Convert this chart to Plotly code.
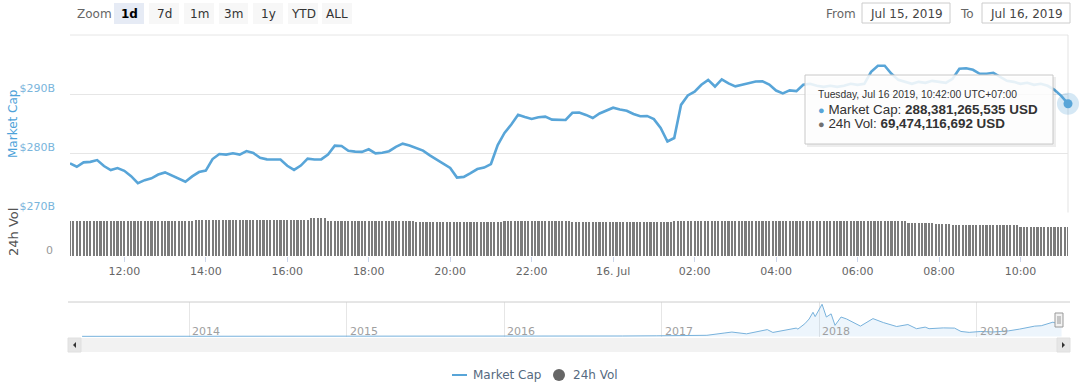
import plotly.graph_objects as go
import pandas as pd

# ---------------- data ----------------
# Total market cap (USD billions), 10-minute samples starting Jul 15 2019 10:40
mc_start = "2019-07-15 10:40"
mc_axis_end = "2019-07-16 11:10"
mc_vals = [
    278.31, 277.73, 278.47, 278.56, 278.86, 277.85, 277.17, 277.51, 277.05, 276.15,
    274.97, 275.47, 275.78, 276.41, 276.78, 276.27, 275.64, 275.19, 276.10, 276.83,
    277.08, 279.03, 279.88, 279.78, 280.00, 279.78, 280.39, 280.05, 279.24, 278.98,
    278.95, 278.95, 277.90, 277.20, 277.93, 279.10, 278.97, 278.98, 279.80, 281.29,
    281.24, 280.44, 280.29, 280.25, 280.68, 280.00, 280.10, 280.36, 281.10, 281.64,
    281.33, 280.90, 280.46, 279.66, 278.93, 278.14, 277.54, 275.90, 276.02, 276.66,
    277.34, 277.59, 278.19, 281.41, 283.44, 284.88, 286.53, 286.15, 285.80, 286.10,
    286.20, 285.69, 285.61, 285.64, 286.86, 286.90, 286.49, 285.97, 286.73, 287.20,
    287.71, 287.42, 287.20, 286.66, 286.27, 286.32, 285.78, 284.29, 282.00, 282.59,
    288.19, 289.78, 290.42, 291.58, 292.42, 291.29, 292.51, 291.83, 291.32, 291.58,
    291.86, 292.14, 292.17, 291.63, 290.61, 290.14, 290.64, 290.51, 291.58, 291.75,
    291.41, 291.24, 291.41, 291.24, 291.41, 291.75, 291.58, 291.75, 293.78, 294.80,
    294.80, 293.44, 292.42, 292.08, 291.75, 292.08, 291.92, 292.25, 292.08, 291.92,
    292.59, 294.29, 294.37, 294.12, 293.44, 293.44, 293.61, 292.93, 292.25, 292.08,
    291.75, 291.92, 291.58, 291.75, 291.41, 290.73, 289.71, 288.38,
]

# 24h volume (USD billions), 5-minute samples starting Jul 15 2019 10:40 (one hour per row)
vol_vals = [
    83.3, 83.3, 83.3, 83.3, 83.3, 83.3, 83.3, 83.3, 83.3, 83.3, 83.3, 83.3,
    83.3, 83.3, 83.3, 83.3, 83.3, 83.3, 83.3, 83.3, 83.3, 83.3, 83.3, 83.3,
    83.3, 83.3, 83.3, 83.3, 83.3, 83.3, 83.3, 83.3, 83.3, 83.3, 83.3, 83.3,
    83.3, 84.0, 84.0, 84.0, 84.0, 84.0, 84.0, 84.0, 84.0, 84.0, 84.0, 84.0,
    84.0, 84.0, 84.0, 84.0, 84.0, 84.0, 84.0, 84.0, 84.0, 84.0, 84.0, 84.0,
    84.0, 84.0, 84.0, 84.0, 84.0, 84.0, 84.0, 84.0, 84.0, 84.0, 84.0, 88.8,
    89.2, 89.2, 89.0, 88.6, 83.3, 83.3, 83.3, 83.3, 83.3, 83.3, 83.3, 83.3,
    83.3, 83.3, 83.3, 83.3, 81.8, 81.8, 81.8, 81.8, 81.8, 81.8, 81.8, 81.8,
    81.8, 81.8, 81.8, 81.8, 81.8, 81.8, 80.3, 80.3, 80.3, 80.3, 80.3, 80.3,
    80.3, 80.3, 80.3, 80.3, 80.3, 80.3, 79.0, 80.3, 80.3, 80.3, 80.3, 80.3,
    80.3, 80.3, 80.3, 80.3, 80.3, 80.3, 80.3, 80.3, 81.8, 81.8, 81.8, 81.8,
    81.8, 81.8, 81.8, 81.8, 81.8, 82.5, 82.5, 82.5, 82.5, 82.5, 82.5, 82.5,
    82.5, 82.5, 82.5, 82.5, 80.5, 80.5, 80.5, 80.5, 80.5, 80.5, 80.5, 80.5,
    80.5, 80.5, 80.5, 81.2, 80.5, 80.5, 80.5, 80.5, 80.5, 80.5, 80.5, 80.5,
    80.5, 80.5, 80.5, 80.5, 80.5, 80.5, 80.5, 80.5, 80.5, 80.5, 81.8, 81.8,
    81.8, 81.8, 81.8, 81.8, 81.8, 81.8, 81.8, 81.8, 81.8, 81.8, 81.8, 81.8,
    81.8, 81.8, 81.8, 81.8, 81.8, 81.8, 81.8, 81.8, 81.8, 81.8, 81.8, 81.8,
    81.8, 81.8, 81.8, 81.8, 81.8, 81.8, 81.8, 81.8, 81.8, 81.8, 81.8, 81.8,
    81.8, 81.8, 81.8, 81.8, 81.8, 81.8, 81.8, 81.8, 81.8, 81.8, 81.8, 81.8,
    81.8, 81.8, 81.8, 81.8, 81.8, 81.8, 81.8, 81.8, 81.8, 81.8, 81.8, 81.8,
    81.8, 81.8, 81.8, 81.8, 81.8, 81.8, 81.8, 78.0, 78.0, 78.0, 78.0, 78.0,
    78.0, 78.0, 78.0, 75.7, 75.7, 75.7, 75.7, 75.7, 72.6, 72.6, 72.6, 72.6,
    72.6, 72.6, 72.6, 72.6, 72.6, 72.6, 72.6, 72.6, 72.6, 72.6, 72.6, 72.6,
    72.6, 72.6, 72.6, 72.6, 69.5, 69.5, 69.5, 69.5, 69.5, 69.5, 69.5, 69.5,
    69.5, 69.5, 69.5, 69.5, 69.5, 69.5, 69.47,
]

x_tickvals = ["2019-07-15 12:00", "2019-07-15 14:00", "2019-07-15 16:00", "2019-07-15 18:00",
              "2019-07-15 20:00", "2019-07-15 22:00", "2019-07-16 00:00", "2019-07-16 02:00",
              "2019-07-16 04:00", "2019-07-16 06:00", "2019-07-16 08:00", "2019-07-16 10:00"]
x_ticktext = ["12:00", "14:00", "16:00", "18:00", "20:00", "22:00", "16. Jul",
              "02:00", "04:00", "06:00", "08:00", "10:00"]
y_tickvals = [270, 280, 290, 300]
y_ticktext = ["$270B", "$280B", "$290B", ""]

# Navigator: full history of total market cap (USD billions)
nav_dates = ["2013-04-28", "2013-06-01", "2013-08-01", "2013-10-01", "2013-11-15", "2013-12-04",
             "2013-12-20", "2014-01-05", "2014-02-15", "2014-04-10", "2014-06-05", "2014-08-01",
             "2014-10-05", "2014-12-15", "2015-01-15", "2015-03-15", "2015-06-01", "2015-08-20",
             "2015-11-05", "2015-12-15", "2016-02-01", "2016-04-15", "2016-06-17", "2016-08-02",
             "2016-10-01", "2016-12-20", "2017-01-05", "2017-02-15", "2017-03-15", "2017-04-15",
             "2017-05-25", "2017-06-12", "2017-07-16", "2017-08-08", "2017-09-02", "2017-09-15",
             "2017-10-20", "2017-11-08", "2017-11-12", "2017-11-28", "2017-12-08", "2017-12-17",
             "2017-12-22", "2018-01-07", "2018-01-17", "2018-01-28", "2018-02-06", "2018-02-20",
             "2018-03-05", "2018-04-06", "2018-05-05", "2018-05-29", "2018-06-29", "2018-07-25",
             "2018-08-14", "2018-09-03", "2018-09-12", "2018-10-15", "2018-11-10", "2018-11-25",
             "2018-12-14", "2019-01-10", "2019-02-07", "2019-03-15", "2019-04-10", "2019-05-15",
             "2019-05-30", "2019-06-26", "2019-07-10", "2019-07-16"]
nav_vals = [1.6, 1.5, 1.3, 1.8, 6, 15, 9, 11, 9, 6, 9, 8,
            5, 4.5, 3.5, 4.5, 4.2, 4.3, 6.5, 7, 6.5, 7.5, 12, 9.5,
            10.5, 15, 17, 18, 24, 28, 85, 110, 65, 115, 172, 100,
            175, 210, 185, 320, 440, 610, 500, 813, 490, 570, 280, 490,
            440, 260, 450, 350, 250, 300, 195, 235, 195, 215, 210, 125,
            102, 125, 112, 140, 185, 260, 270, 360, 310, 288]
nav_range = ["2013-03-31", "2019-07-31"]
nav_year_vals = ["2014-01-01", "2015-01-01", "2016-01-01", "2017-01-01", "2018-01-01", "2019-01-01"]
nav_year_text = ["2014", "2015", "2016", "2017", "2018", "2019"]

zoom_buttons = ["1d", "7d", "1m", "3m", "1y", "YTD", "ALL"]
zoom_selected = "1d"
date_from = "Jul 15, 2019"
date_to = "Jul 16, 2019"
tip_time = "Tuesday, Jul 16 2019, 10:42:00 UTC+07:00"
tip_mcap = 288381265535
tip_vol = 69474116692

# ---------------- styling / geometry ----------------
W, H = 1080, 385
L, R, T, B = 70, 12, 35, 48
PW, PH = W - L - R, H - T - B
BOTTOM = H - B


def PX(x):
    return (x - L) / PW


def PY(y):
    return (BOTTOM - y) / PH


FONT = "DejaVu Sans"
TIPFONT = "Liberation Sans"
LINE_BLUE = "#58a5d8"
VOL_GREY = "#7b7b7b"

main_dom = [PY(212.5), 1.0]
vol_dom = [PY(256), PY(212.5)]
nav_dom = [0.0, PY(302)]

mc_times = pd.date_range(start=mc_start, periods=len(mc_vals), freq="10min")
vol_times = pd.date_range(start=mc_start, periods=len(vol_vals), freq="5min")

fig = go.Figure()

fig.add_trace(go.Scatter(x=mc_times, y=mc_vals, mode="lines", name="Market Cap",
                         line=dict(color=LINE_BLUE, width=2.6), xaxis="x", yaxis="y",
                         hoverinfo="skip", showlegend=False))
fig.add_trace(go.Bar(x=vol_times, y=vol_vals, name="24h Vol", marker=dict(color=VOL_GREY, line=dict(width=0)),
                     width=190000, xaxis="x", yaxis="y2", hoverinfo="skip", showlegend=False))
# hovered point
fig.add_trace(go.Scatter(x=[mc_times[-1]], y=[mc_vals[-1]], mode="markers", xaxis="x", yaxis="y",
                         marker=dict(size=22, color="rgba(88,165,216,0.25)"), cliponaxis=False,
                         hoverinfo="skip", showlegend=False))
fig.add_trace(go.Scatter(x=[mc_times[-1]], y=[mc_vals[-1]], mode="markers", xaxis="x", yaxis="y",
                         marker=dict(size=9, color=LINE_BLUE, line=dict(width=0)),
                         cliponaxis=False, hoverinfo="skip", showlegend=False))
# navigator series
fig.add_trace(go.Scatter(x=nav_dates, y=nav_vals, mode="lines", fill="tozeroy",
                         fillcolor="rgba(124,181,236,0.14)", line=dict(color="#78b2dc", width=1),
                         xaxis="x3", yaxis="y3", hoverinfo="skip", showlegend=False))

shapes = []
annotations = []

# top line and right border line of main pane
shapes.append(dict(type="line", xref="paper", yref="paper", x0=0, x1=1, y0=1, y1=1, layer="below",
                   line=dict(color="#e6e6e6", width=1)))
shapes.append(dict(type="line", xref="paper", yref="paper", x0=1, x1=1, y0=main_dom[0], y1=1, layer="below",
                   line=dict(color="#e3e3e3", width=1)))
# navigator top outline
shapes.append(dict(type="line", xref="paper", yref="paper", x0=PX(68), x1=PX(1070), y0=nav_dom[1], y1=nav_dom[1],
                   line=dict(color="#cccccc", width=1)))
# navigator year labels
for yv, yt in zip(nav_year_vals, nav_year_text):
    annotations.append(dict(text=yt, x=yv, xref="x3", y=PY(331), yref="paper", showarrow=False,
                            xanchor="left", yanchor="middle", xshift=1,
                            font=dict(family=FONT, size=11, color="#a0a0a0")))
# navigator handle
shapes.append(dict(type="rect", xref="paper", yref="paper", x0=PX(1055), x1=PX(1063), y0=PY(327), y1=PY(313),
                   fillcolor="#f2f2f2", line=dict(color="#999999", width=1)))
for hx in (1058, 1060):
    shapes.append(dict(type="line", xref="paper", yref="paper", x0=PX(hx), x1=PX(hx), y0=PY(324), y1=PY(316),
                       line=dict(color="#999999", width=1)))
# scrollbar
shapes.append(dict(type="rect", xref="paper", yref="paper", x0=PX(68), x1=PX(1070), y0=PY(352), y1=PY(338),
                   fillcolor="#f2f2f2", line=dict(width=0)))
shapes.append(dict(type="rect", xref="paper", yref="paper", x0=PX(68), x1=PX(81), y0=PY(352), y1=PY(338),
                   fillcolor="#e6e6e6", line=dict(color="#e0e0e0", width=1)))
shapes.append(dict(type="rect", xref="paper", yref="paper", x0=PX(1057), x1=PX(1070), y0=PY(352), y1=PY(338),
                   fillcolor="#e6e6e6", line=dict(color="#e0e0e0", width=1)))
shapes.append(dict(type="path", xref="paper", yref="paper",
                   path=f"M {PX(76)} {PY(342)} L {PX(73)} {PY(345)} L {PX(76)} {PY(348)} Z",
                   fillcolor="#333333", line=dict(width=0)))
shapes.append(dict(type="path", xref="paper", yref="paper",
                   path=f"M {PX(1062)} {PY(342)} L {PX(1065)} {PY(345)} L {PX(1062)} {PY(348)} Z",
                   fillcolor="#333333", line=dict(width=0)))

# range selector
btn_x = [(114, 144), (149, 179), (184, 214), (219, 248), (253, 283), (288, 318), (322, 352)]
annotations.append(dict(text="Zoom", x=PX(94), y=PY(13.5), xref="paper", yref="paper", showarrow=False,
                        xanchor="center", yanchor="middle", font=dict(family=FONT, size=12, color="#666666")))
for lab, (x0, x1) in zip(zoom_buttons, btn_x):
    sel = lab == zoom_selected
    shapes.append(dict(type="rect", xref="paper", yref="paper", x0=PX(x0), x1=PX(x1), y0=PY(24), y1=PY(3),
                       fillcolor="#e6ebf5" if sel else "#f7f7f7", line=dict(width=0)))
    annotations.append(dict(text=f"<b>{lab}</b>" if sel else lab, x=PX((x0 + x1) / 2), y=PY(13.5),
                            xref="paper", yref="paper", showarrow=False, xanchor="center", yanchor="middle",
                            font=dict(family=FONT, size=12, color="#000000" if sel else "#333333")))

# From / To inputs
for lab, lx, (bx0, bx1), val in (("From", 841, (862, 950), date_from), ("To", 967, (982, 1070), date_to)):
    annotations.append(dict(text=lab, x=PX(lx), y=PY(13.5), xref="paper", yref="paper", showarrow=False,
                            xanchor="center", yanchor="middle", font=dict(family=FONT, size=12, color="#666666")))
    shapes.append(dict(type="rect", xref="paper", yref="paper", x0=PX(bx0), x1=PX(bx1), y0=PY(23), y1=PY(3),
                       fillcolor="white", line=dict(color="#cccccc", width=1)))
    annotations.append(dict(text=val, x=PX((bx0 + bx1) / 2), y=PY(13.5), xref="paper", yref="paper",
                            showarrow=False, xanchor="center", yanchor="middle",
                            font=dict(family=FONT, size=12, color="#444444")))

# axis titles
annotations.append(dict(text="Market Cap", x=PX(13), y=PY(124), xref="paper", yref="paper", showarrow=False,
                        textangle=-90, xanchor="center", yanchor="middle",
                        font=dict(family=FONT, size=12, color="#4ea3d9")))
annotations.append(dict(text="24h Vol", x=PX(13), y=PY(232), xref="paper", yref="paper", showarrow=False,
                        textangle=-90, xanchor="center", yanchor="middle",
                        font=dict(family=FONT, size=13, color="#555555")))

# tooltip
shapes.append(dict(type="rect", xref="paper", yref="paper", x0=PX(807), x1=PX(1056), y0=PY(147), y1=PY(77),
                   fillcolor="rgba(0,0,0,0.07)", line=dict(width=0), layer="above"))
shapes.append(dict(type="rect", xref="paper", yref="paper", x0=PX(805), x1=PX(1053), y0=PY(144), y1=PY(75),
                   fillcolor="rgba(255,255,255,0.86)", line=dict(color="#c8c8c8", width=1), layer="above"))
annotations.append(dict(text=tip_time, x=PX(816), y=PY(94), xref="paper", yref="paper", showarrow=False,
                        xanchor="left", yanchor="middle", font=dict(family=TIPFONT, size=10.3, color="#333333")))
annotations.append(dict(text=f"<span style='color:{LINE_BLUE};font-size:11px'>●</span> Market Cap: <b>{tip_mcap:,} USD</b>",
                        x=PX(816), y=PY(109), xref="paper", yref="paper", showarrow=False,
                        xanchor="left", yanchor="middle", font=dict(family=TIPFONT, size=13.4, color="#333333")))
annotations.append(dict(text=f"<span style='color:#707070;font-size:11px'>●</span> 24h Vol: <b>{tip_vol:,} USD</b>",
                        x=PX(816), y=PY(123.5), xref="paper", yref="paper", showarrow=False,
                        xanchor="left", yanchor="middle", font=dict(family=TIPFONT, size=13.4, color="#333333")))

# legend
shapes.append(dict(type="line", xref="paper", yref="paper", x0=PX(452), x1=PX(467), y0=PY(375), y1=PY(375),
                   line=dict(color=LINE_BLUE, width=2)))
annotations.append(dict(text="Market Cap", x=PX(471), y=PY(375), xref="paper", yref="paper", showarrow=False,
                        xanchor="left", yanchor="middle", font=dict(family=FONT, size=12, color="#566a80")))
shapes.append(dict(type="circle", xref="paper", yref="paper", x0=PX(553), x1=PX(565), y0=PY(381), y1=PY(369),
                   fillcolor="#666666", line=dict(width=0)))
annotations.append(dict(text="24h Vol", x=PX(571), y=PY(375), xref="paper", yref="paper", showarrow=False,
                        xanchor="left", yanchor="middle", font=dict(family=FONT, size=12, color="#566a80")))

fig.update_layout(
    width=W, height=H,
    margin=dict(l=L, r=R, t=T, b=B, pad=0),
    paper_bgcolor="white", plot_bgcolor="white",
    font=dict(family=FONT),
    hovermode=False, showlegend=False, bargap=0,
    xaxis=dict(domain=[0, 1], anchor="y2", type="date", range=[mc_start, mc_axis_end],
               tickvals=x_tickvals, ticktext=x_ticktext, ticks="outside", ticklen=5,
               tickcolor="#ccd6eb", showgrid=False, showline=False, zeroline=False,
               tickfont=dict(family=FONT, size=11, color="#666666"), fixedrange=True),
    yaxis=dict(domain=main_dom, anchor="x", range=[270, 300], tickvals=y_tickvals, ticktext=y_ticktext,
               showgrid=True, gridcolor="#e6e6e6", gridwidth=1, zeroline=False, showline=False,
               ticks="", ticklabelshift=-6, ticklabelstandoff=14,
               tickfont=dict(family=FONT, size=11, color="#7ab5dc"), fixedrange=True),
    yaxis2=dict(domain=vol_dom, anchor="x", range=[0, 101], tickvals=[0], ticktext=["0"],
                showgrid=False, zeroline=False, showline=False, ticks="",
                ticklabelshift=-6, ticklabelstandoff=16,
                tickfont=dict(family=FONT, size=11, color="#999999"), fixedrange=True),
    xaxis3=dict(domain=[0, 1], anchor="y3", type="date", range=nav_range,
                tickvals=nav_year_vals, showticklabels=False, ticks="", showgrid=True,
                gridcolor="#e6e6e6", zeroline=False, showline=False, fixedrange=True),
    yaxis3=dict(domain=nav_dom, anchor="x3", range=[-15, 870], visible=False, fixedrange=True),
    shapes=shapes,
    annotations=annotations,
)

fig.write_html("out.html", config={"displayModeBar": False},
               post_script="document.body.style.margin='0px';")
